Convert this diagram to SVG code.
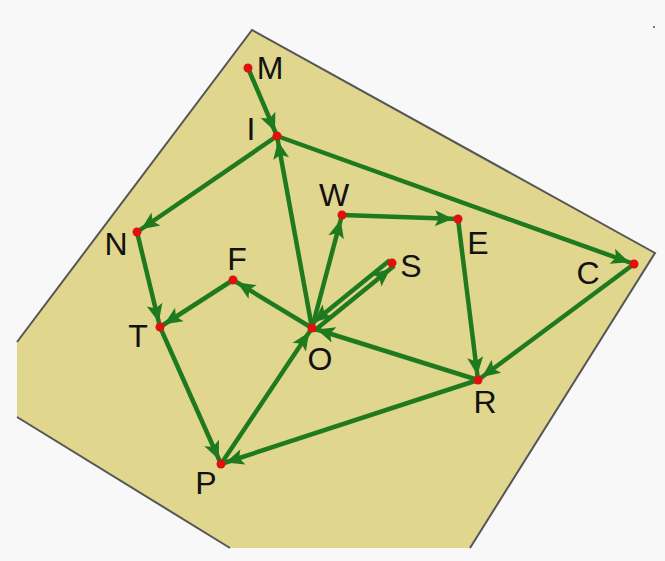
<svg xmlns="http://www.w3.org/2000/svg" width="665" height="561" viewBox="0 0 665 561">
<style>
.edge{stroke:#1f7a1f;stroke-width:4.5;fill:none;marker-end:url(#ah)}
.dot{fill:#e01010}
.lbl{font-family:"Liberation Sans",Arial,sans-serif;font-size:32px;fill:#111;text-anchor:middle}
</style>
<defs>
<marker id="ah" markerUnits="userSpaceOnUse" viewBox="-22 -10 32 20" markerWidth="32" markerHeight="20" refX="5" refY="0" orient="auto" overflow="visible">
<path d="M0,0 L-18,-8 L-14,0 L-18,8 Z" fill="#1f7a1f"/>
</marker>
</defs>
<rect width="665" height="561" fill="#f8f8f8"/>
<g id="board">
<polygon points="252,30 655,253 470,548 230,548 17,417 17,342" fill="#e0d68d"/>
<polyline points="17,342 252,30 655,253 470,548" fill="none" stroke="#555" stroke-width="2"/>
<line x1="17" y1="417" x2="230" y2="548" stroke="#555" stroke-width="2"/>
<rect x="653" y="26" width="2" height="2" fill="#777"/>
</g>
<g id="connectors">
<line class="edge" x1="248" y1="68" x2="277" y2="136"/>
<line class="edge" x1="312" y1="328" x2="277" y2="136"/>
<line class="edge" x1="277" y1="136" x2="137" y2="232"/>
<line class="edge" x1="277" y1="136" x2="634" y2="264"/>
<line class="edge" x1="137" y1="232" x2="160" y2="327"/>
<line class="edge" x1="233" y1="280" x2="160" y2="327"/>
<line class="edge" x1="312" y1="328" x2="233" y2="280"/>
<line class="edge" x1="312" y1="328" x2="342" y2="215"/>
<line class="edge" x1="342" y1="215" x2="458" y2="219"/>
<line class="edge" x1="458" y1="219" x2="478" y2="380"/>
<line class="edge" x1="634" y1="264" x2="478" y2="380"/>
<line class="edge" x1="478" y1="380" x2="312" y2="328"/>
<line class="edge" x1="314.2" y1="330.7" x2="394.2" y2="265.7"/>
<line class="edge" x1="389.8" y1="260.3" x2="309.8" y2="325.3"/>
<line class="edge" x1="160" y1="327" x2="221" y2="464"/>
<line class="edge" x1="478" y1="380" x2="221" y2="464"/>
<line class="edge" x1="221" y1="464" x2="312" y2="328"/>
</g>
<g id="node-M"><circle class="dot" cx="248" cy="68" r="4.5"/><text class="lbl" x="270" y="79">M</text></g>
<g id="node-I"><circle class="dot" cx="277" cy="136" r="4.5"/><text class="lbl" x="251" y="140">I</text></g>
<g id="node-N"><circle class="dot" cx="137" cy="232" r="4.5"/><text class="lbl" x="116" y="255">N</text></g>
<g id="node-W"><circle class="dot" cx="342" cy="215" r="4.5"/><text class="lbl" x="334" y="206">W</text></g>
<g id="node-E"><circle class="dot" cx="458" cy="219" r="4.5"/><text class="lbl" x="478" y="254">E</text></g>
<g id="node-C"><circle class="dot" cx="634" cy="264" r="4.5"/><text class="lbl" x="588" y="284">C</text></g>
<g id="node-F"><circle class="dot" cx="233" cy="280" r="4.5"/><text class="lbl" x="237" y="270">F</text></g>
<g id="node-S"><circle class="dot" cx="392" cy="263" r="4.5"/><text class="lbl" x="411" y="277">S</text></g>
<g id="node-T"><circle class="dot" cx="160" cy="327" r="4.5"/><text class="lbl" x="138" y="347">T</text></g>
<g id="node-O"><circle class="dot" cx="312" cy="328" r="4.5"/><text class="lbl" x="320" y="370">O</text></g>
<g id="node-R"><circle class="dot" cx="478" cy="380" r="4.5"/><text class="lbl" x="485" y="413">R</text></g>
<g id="node-P"><circle class="dot" cx="221" cy="464" r="4.5"/><text class="lbl" x="206" y="494">P</text></g>
</svg>
